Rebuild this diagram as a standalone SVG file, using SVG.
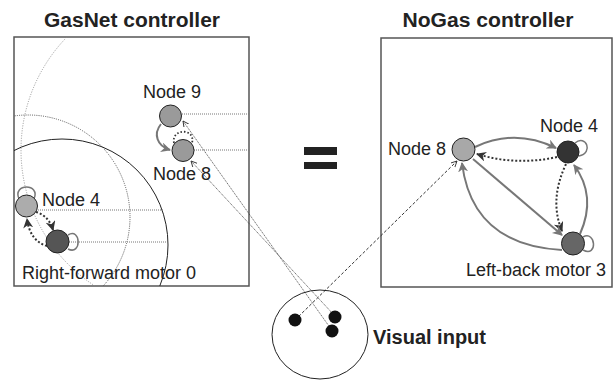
<svg xmlns="http://www.w3.org/2000/svg" width="615" height="380" viewBox="0 0 615 380">
  <style>
    .frame { fill: #fff; stroke: #555; stroke-width: 1.5; }
    .title { font-family: "Liberation Sans", Arial, sans-serif; font-weight: bold; font-size: 19.5px; fill: #222; }
    .lbl { font-family: "Liberation Sans", Arial, sans-serif; font-size: 18px; fill: #222; }
    .node { stroke: #222; stroke-width: 1; }
    .gas-solid { fill: none; stroke: #222; stroke-width: 1; }
    .gas-dot { fill: none; stroke: #555; stroke-width: 1; stroke-dasharray: 1 1.2; }
    .gas-faint { fill: none; stroke: #888; stroke-width: 0.9; stroke-dasharray: 1 1.5; }
    .probe { fill: none; stroke: #777; stroke-width: 1; stroke-dasharray: 1 1; }
    .exc { fill: none; stroke: #777; stroke-width: 2; }
    .inh { fill: none; stroke: #333; stroke-width: 2; stroke-dasharray: 2 2; }
    .loop { fill: none; stroke: #777; stroke-width: 1.5; }
    .sens { fill: none; stroke: #444; stroke-width: 0.8; stroke-dasharray: 1.2 0.8; }
    .sens-dash { fill: none; stroke: #333; stroke-width: 1; stroke-dasharray: 3 2; }
  </style>
  <defs>
    <marker id="ahGray" markerUnits="userSpaceOnUse" markerWidth="11" markerHeight="11" refX="9" refY="5" orient="auto">
      <path d="M0,0 L10,5 L0,10 L3,5 z" fill="#777"/>
    </marker>
    <marker id="ahDark" markerUnits="userSpaceOnUse" markerWidth="11" markerHeight="11" refX="9" refY="5" orient="auto">
      <path d="M0,0 L10,5 L0,10 L3,5 z" fill="#333"/>
    </marker>
    <marker id="ahThin" markerUnits="userSpaceOnUse" markerWidth="8" markerHeight="8" refX="6" refY="3" orient="auto">
      <path d="M0,0 L6,3 L0,6" fill="none" stroke="#333" stroke-width="0.9"/>
    </marker>
    <clipPath id="gasClip">
      <rect x="14" y="37" width="235" height="249"/>
    </clipPath>
  </defs>

  <!-- panel titles -->
  <text class="title" x="132" y="27" text-anchor="middle" textLength="176" lengthAdjust="spacingAndGlyphs">GasNet controller</text>
  <text class="title" x="488" y="27" text-anchor="middle" textLength="171" lengthAdjust="spacingAndGlyphs">NoGas controller</text>

  <!-- panel frames -->
  <rect class="frame" x="14" y="37" width="235" height="249"/>
  <rect class="frame" x="381" y="38" width="231" height="249"/>

  <!-- equivalence sign -->
  <rect x="304" y="147" width="33" height="8" fill="#222"/>
  <rect x="304" y="162" width="33" height="7" fill="#222"/>

  <!-- gas emission areas, clipped to the GasNet frame -->
  <g id="gas-areas" clip-path="url(#gasClip)">
    <circle class="gas-faint" cx="183" cy="150" r="162"/>
    <circle class="gas-dot" cx="28" cy="217" r="102"/>
    <circle class="gas-solid" cx="62" cy="245" r="106"/>
  </g>

  <!-- activation probes to the frame edge -->
  <g id="probes">
    <line class="probe" x1="182" y1="114" x2="250" y2="114"/>
    <line class="probe" x1="194" y1="150" x2="250" y2="150"/>
    <line class="probe" x1="38" y1="210" x2="163" y2="210"/>
    <line class="probe" x1="69" y1="242" x2="167" y2="242"/>
  </g>

  <g id="connectors">
    <!-- GasNet connections -->
    <path class="exc" d="M161,124 C153,134 157,146 170,150" marker-end="url(#ahGray)"/>
    <path class="inh" style="stroke-dasharray:1.5 2;stroke-width:1.8" d="M174,143 C171,128 196,128 192,143"/>
    <path class="loop" d="M19,199 C12,183 41,183 34,199"/>
    <path class="loop" d="M68,235 C81,227 82,256 68,249"/>
    <path class="inh" d="M36,212 Q49,216 53,230" marker-end="url(#ahDark)"/>
    <path class="inh" d="M47,246 Q30,241 27,219" marker-end="url(#ahDark)"/>

    <!-- NoGas connections -->
    <path class="exc" d="M475,147 Q515,128 556,148" marker-end="url(#ahGray)"/>
    <path class="inh" d="M557,157 Q516,166 477,154" marker-end="url(#ahDark)"/>
    <path class="inh" d="M566,164 Q549,200 562,231" marker-end="url(#ahDark)"/>
    <path class="exc" d="M580,234 Q597,196 574,165" marker-end="url(#ahGray)"/>
    <path class="exc" d="M473,159 L562,235" marker-end="url(#ahGray)"/>
    <path class="exc" d="M562,250 Q472,245 462,163" marker-end="url(#ahGray)"/>
    <path class="loop" d="M575,143 C586,134 594,153 579,156"/>
    <path class="loop" d="M583,237 C596,230 598,258 583,250"/>

    <!-- visual input connections -->
    <line class="sens" x1="331" y1="329" x2="183" y2="121" marker-end="url(#ahThin)"/>
    <line class="sens" x1="334" y1="315" x2="191" y2="161" marker-end="url(#ahThin)"/>
    <line class="sens-dash" x1="295" y1="320" x2="457" y2="161" marker-end="url(#ahThin)"/>
  </g>

  <!-- GasNet nodes -->
  <g id="gas-node9">
    <circle class="node" cx="170.5" cy="116" r="11" fill="#9a9a9a"/>
    <text class="lbl" x="143" y="98">Node 9</text>
  </g>
  <g id="gas-node8">
    <circle class="node" cx="183" cy="150.5" r="11" fill="#9a9a9a"/>
    <text class="lbl" x="153" y="180">Node 8</text>
  </g>
  <g id="gas-node4">
    <circle class="node" cx="26.5" cy="206" r="11" fill="#acacac"/>
    <text class="lbl" x="42" y="206">Node 4</text>
  </g>
  <g id="gas-motor0">
    <circle class="node" cx="57.5" cy="241.5" r="11.5" fill="#555"/>
    <text class="lbl" x="22" y="279">Right-forward motor 0</text>
  </g>

  <!-- NoGas nodes -->
  <g id="nogas-node8">
    <circle class="node" cx="463.5" cy="149.5" r="11.5" fill="#a8a8a8"/>
    <text class="lbl" x="388" y="155">Node 8</text>
  </g>
  <g id="nogas-node4">
    <circle class="node" cx="568" cy="152" r="11" fill="#333"/>
    <text class="lbl" x="540" y="132">Node 4</text>
  </g>
  <g id="nogas-motor3">
    <circle class="node" cx="573" cy="243.5" r="11.5" fill="#666"/>
    <text class="lbl" x="466" y="276">Left-back motor 3</text>
  </g>

  <!-- visual input -->
  <g id="visual-input">
    <ellipse cx="320" cy="334.5" rx="48" ry="44.5" fill="none" stroke="#222" stroke-width="1"/>
    <circle cx="295" cy="320" r="6.5" fill="#111"/>
    <circle cx="335" cy="317" r="6.5" fill="#111"/>
    <circle cx="332" cy="331" r="6.5" fill="#111"/>
    <text class="title" x="373" y="344" style="font-size:20px">Visual input</text>
  </g>
</svg>
